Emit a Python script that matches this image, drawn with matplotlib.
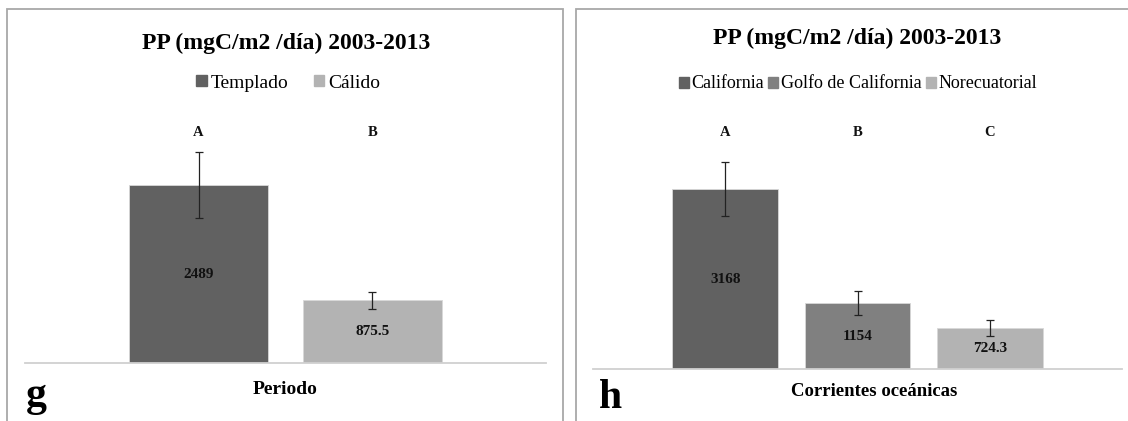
import matplotlib
matplotlib.use('Agg')
import matplotlib.pyplot as plt
from matplotlib.patches import Patch, Rectangle

# panel g: periodo
periodos = ['Templado', 'Cálido']
pp_periodo = [2489, 875.5]
err_periodo = [462, 119]
letras_periodo = ['A', 'B']
etiq_periodo = ['2489', '875.5']

# panel h: corrientes oceanicas
corrientes = ['California', 'Golfo de California', 'Norecuatorial']
pp_corriente = [3168, 1154, 724.3]
err_corriente = [475, 211, 141]
letras_corriente = ['A', 'B', 'C']
etiq_corriente = ['3168', '1154', '724.3']

titulo = 'PP (mgC/m2 /día) 2003-2013'

plt.rcParams['font.family'] = ['Liberation Serif', 'DejaVu Serif']

W, H = 1128, 421
fig = plt.figure(figsize=(W / 100, H / 100), dpi=100)


def fx(px):
    return px / W


def fy(py):
    return 1 - py / H


def panel(x0, x1, base_y, ymax, px_per_unit, cats, vals, errs, colors,
          letras, etiquetas, letra_y):
    height = ymax * px_per_unit
    ax = fig.add_axes([fx(x0), fy(base_y), (x1 - x0) / W, height / H])
    xs = list(range(len(vals)))
    ax.bar(xs, vals, width=0.8, color=colors, edgecolor='#d8d8d8',
           linewidth=0.6, zorder=2)
    ax.errorbar(xs, vals, yerr=errs, fmt='none', ecolor='#222222',
                elinewidth=0.9, capsize=3, capthick=0.9, zorder=3)
    ax.set_xlim(-1, len(vals))
    ax.set_ylim(0, ymax)
    for s in ['top', 'right', 'left']:
        ax.spines[s].set_visible(False)
    ax.spines['bottom'].set_color('#d0d0d0')
    ax.spines['bottom'].set_linewidth(1.3)
    ax.set_xticks([])
    ax.set_yticks([])
    ax.patch.set_alpha(0)
    letra_frac = (base_y - letra_y) / height
    for x, v, l, t in zip(xs, vals, letras, etiquetas):
        ax.text(x, v / 2, t, ha='center', va='center', fontsize=11,
                fontweight='bold', color='#111111', zorder=4)
        ax.text(x, letra_frac, l, transform=ax.get_xaxis_transform(),
                ha='center', va='center', fontsize=10.5, fontweight='bold',
                color='#111111')
    return ax


# panel frames
for x0, x1 in [(7, 563), (576, 1135)]:
    fig.patches.append(Rectangle((fx(x0), fy(430)), (x1 - x0) / W, 421 / H,
                                 transform=fig.transFigure, fill=False,
                                 edgecolor='#a8a8a8', linewidth=1.3,
                                 clip_on=False))

col_periodo = ['#616161', '#b3b3b3']
col_corriente = ['#616161', '#808080', '#b3b3b3']

panel(25, 546, 363, 3700, 0.0715, periodos, pp_periodo, err_periodo,
      col_periodo, letras_periodo, etiq_periodo, 132)
panel(593, 1122, 369, 4600, 0.0568, corrientes, pp_corriente, err_corriente,
      col_corriente, letras_corriente, etiq_corriente, 133)

# titles
fig.text(fx(286), fy(43), titulo, ha='center', va='center', fontsize=17,
         fontweight='bold')
fig.text(fx(857), fy(38), titulo, ha='center', va='center', fontsize=17,
         fontweight='bold')

# legends
h1 = [Patch(color=c, label=l) for c, l in zip(col_periodo, periodos)]
fig.legend(handles=h1, loc='center', bbox_to_anchor=(fx(288), fy(83)),
           ncol=2, frameon=False, fontsize=14, handlelength=0.55,
           handleheight=0.55, handletextpad=0.2, columnspacing=1.3,
           borderpad=0)
h2 = [Patch(color=c, label=l) for c, l in zip(col_corriente, corrientes)]
fig.legend(handles=h2, loc='center', bbox_to_anchor=(fx(858), fy(84)),
           ncol=3, frameon=False, fontsize=13, handlelength=0.55,
           handleheight=0.55, handletextpad=0.15, columnspacing=0.25,
           borderpad=0)

# axis labels
fig.text(fx(285), fy(390), 'Periodo', ha='center', va='center', fontsize=14,
         fontweight='bold')
fig.text(fx(874), fy(392), 'Corrientes oceánicas', ha='center', va='center',
         fontsize=13.5, fontweight='bold')

# panel letters
fig.text(fx(26), fy(406), 'g', ha='left', va='baseline', fontsize=30,
         fontweight='bold')
fig.text(fx(599), fy(408), 'h', ha='left', va='baseline', fontsize=30,
         fontweight='bold')

fig.savefig('out.png', dpi=100)
